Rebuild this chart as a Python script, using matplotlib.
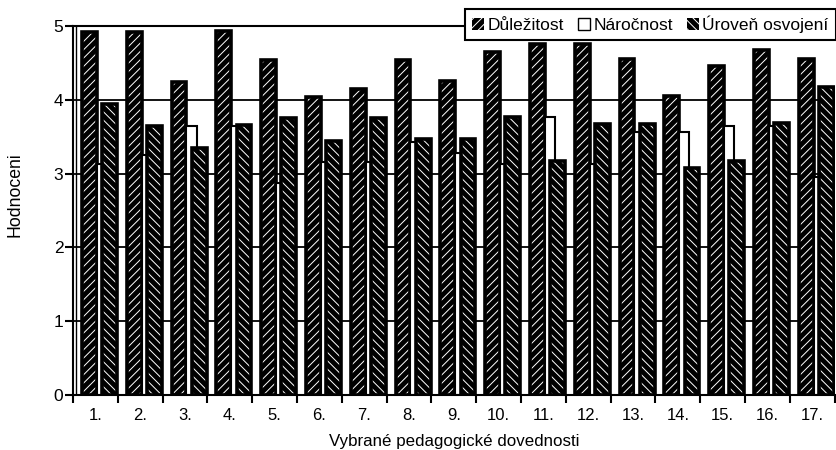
import numpy as np
import matplotlib.pyplot as plt
from matplotlib.patches import Patch

plt.rcParams['font.family'] = ['Liberation Sans', 'DejaVu Sans']
plt.rcParams['hatch.color'] = 'white'
plt.rcParams['hatch.linewidth'] = 0.7

skills = [f'{i}.' for i in range(1, 18)]
dulezitost = [4.92, 4.92, 4.24, 4.93, 4.54, 4.04, 4.15, 4.54, 4.26,
              4.65, 4.75, 4.75, 4.55, 4.05, 4.46, 4.67, 4.55]
narocnost = [3.13, 3.25, 3.64, 3.64, 2.87, 3.16, 3.16, 3.43, 3.28,
             3.13, 3.77, 3.13, 3.56, 3.56, 3.65, 3.65, 2.95]
uroven = [3.94, 3.64, 3.35, 3.66, 3.76, 3.44, 3.76, 3.47, 3.47,
          3.77, 3.17, 3.67, 3.67, 3.07, 3.17, 3.68, 4.17]
series = ['Důležitost', 'Náročnost', 'Úroveň osvojení']

fig = plt.figure(figsize=(8.36, 4.5), dpi=100)
ax = fig.add_axes([73 / 836, 55 / 450, 17 * 44.8 / 836, 369 / 450])

x = np.arange(len(skills))
w = 0.33
# hatched black bars: fill + hatch first, then a thick black outline on top
ax.bar(x - 0.135, dulezitost, w, color='black', hatch='////', zorder=2)
ax.bar(x - 0.135, dulezitost, w, fill=False, edgecolor='black', lw=2.6, zorder=2)
ax.bar(x + 0.03, narocnost, 0.23, align='edge', color='white',
       edgecolor='black', lw=1.5, zorder=2)
ax.bar(x + 0.315, uroven, w, color='black', hatch='\\\\\\\\', zorder=3)
ax.bar(x + 0.315, uroven, w, fill=False, edgecolor='black', lw=2.6, zorder=3)

ax.set_xlim(-0.5, len(skills) - 0.5)
ax.set_ylim(0, 5)
ax.set_yticks(range(6))
ax.yaxis.grid(True, color='black', lw=1.3)
ax.set_axisbelow(True)
ax.axvline(-0.43, color='black', lw=1, zorder=1)

ax.set_xticks(x)
ax.set_xticklabels(skills, fontsize=12)
ax.set_xticks(np.arange(len(skills) + 1) - 0.5, minor=True)
ax.tick_params(axis='x', which='major', length=0, pad=9.5)
ax.tick_params(axis='x', which='minor', length=6, width=1.5, direction='out')
ax.tick_params(axis='y', length=6, width=1.5, direction='out', labelsize=12.5, pad=1)

for s in ['left', 'top', 'bottom']:
    ax.spines[s].set_linewidth(1.5)
ax.spines['right'].set_visible(False)

ax.set_xlabel('Vybrané pedagogické dovednosti', fontsize=12.2, labelpad=8)
fig.text(15 / 836, 1 - 195 / 450, 'Hodnoceni', fontsize=12.7, rotation=90,
         ha='center', va='center')

handles = [Patch(facecolor='black', hatch='////'),
           Patch(facecolor='white', edgecolor='black'),
           Patch(facecolor='black', hatch='\\\\\\\\')]
leg = fig.legend(handles, series, loc='upper left',
                 bbox_to_anchor=(465 / 836, 1 - 9 / 450), ncol=3,
                 frameon=True, fancybox=False, edgecolor='black', framealpha=1,
                 fontsize=12.5, handlelength=0.7, handleheight=0.7,
                 handletextpad=0.2, columnspacing=0.8, borderpad=0.4,
                 borderaxespad=0)
leg.get_frame().set_linewidth(1.5)

fig.savefig('out.png', dpi=100)
